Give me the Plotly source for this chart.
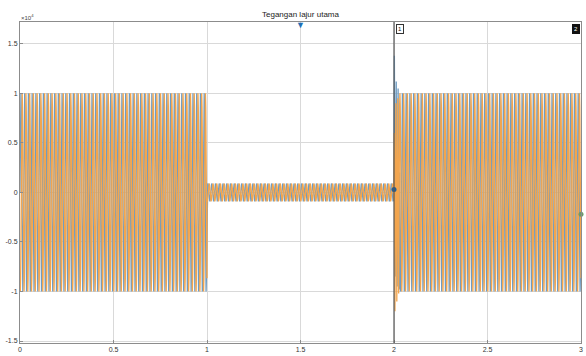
import numpy as np
import plotly.graph_objects as go

# ---- data ----
title_text = "Tegangan lajur utama"
freq_hz = 50
seg_start = [0.0, 1.0, 2.03]
seg_end = [1.0, 2.0, 3.0]
amp_blue = [1.0e4, 0.09e4, 1.0e4]
amp_orange = [1.0e4, 0.09e4, 1.0e4]
phase_blue_deg = 0
phase_orange_deg = -120

# transient right after the switching instant t = 2
trans_blue_t = [2.000, 2.002, 2.007, 2.012, 2.017, 2.022, 2.027, 2.030]
trans_blue_v = [0.03e4, 1.38e4, -0.85e4, 1.12e4, -0.95e4, 1.05e4, -0.98e4, 0.2e4]
trans_orange_t = [2.000, 2.001, 2.005, 2.010, 2.015, 2.020, 2.025, 2.030]
trans_orange_v = [0.0, 0.6e4, -1.2e4, 0.9e4, -1.1e4, 0.95e4, -1.02e4, 0.9e4]

x_ticks = [0, 0.5, 1, 1.5, 2, 2.5, 3]
x_tick_text = ["0", "0.5", "1", "1.5", "2", "2.5", "3"]
y_ticks = [-1.5e4, -1e4, -0.5e4, 0, 0.5e4, 1e4, 1.5e4]
y_tick_text = ["-1.5", "-1", "-0.5", "0", "0.5", "1", "1.5"]

cursor_x = [2.0]
marker_top_x = 1.5
dot_blue = (2.0, 0.03e4)
dot_green = (3.0, -0.22e4)

BLUE = "#6f9cc2"
ORANGE = "#f2a54e"

def wave(amps, phase_deg, extra_t, extra_v, pts_per_cycle=24):
    ts, vs = [], []
    for k, (a, b) in enumerate(zip(seg_start, seg_end)):
        n = int((b - a) * freq_hz * pts_per_cycle) + 1
        t = np.linspace(a, b, n)
        v = amps[k] * np.sin(2 * np.pi * freq_hz * t + np.deg2rad(phase_deg))
        ts.append(t)
        vs.append(v)
        if k == 1:
            ts.append(np.array(extra_t))
            vs.append(np.array(extra_v))
    return np.concatenate(ts), np.concatenate(vs)

tb, vb = wave(amp_blue, phase_blue_deg, trans_blue_t, trans_blue_v)
to, vo = wave(amp_orange, phase_orange_deg, trans_orange_t, trans_orange_v)

fig = go.Figure()
fig.add_trace(go.Scatter(x=tb, y=vb, mode="lines", line=dict(color=BLUE, width=1.3),
                         showlegend=False, hoverinfo="skip"))
fig.add_trace(go.Scatter(x=to, y=vo, mode="lines", line=dict(color=ORANGE, width=1.3),
                         showlegend=False, hoverinfo="skip"))
fig.add_trace(go.Scatter(x=[dot_blue[0]], y=[dot_blue[1]], mode="markers",
                         marker=dict(color="#1f5f99", size=5), showlegend=False))
fig.add_trace(go.Scatter(x=[dot_green[0]], y=[dot_green[1]], mode="markers",
                         marker=dict(color="#6a9a6a", size=5), showlegend=False, cliponaxis=False))

# cursor line
for cx in cursor_x:
    fig.add_shape(type="line", x0=cx, x1=cx, y0=0, y1=1, yref="paper",
                  line=dict(color="#555555", width=1.2))

axis_common = dict(showgrid=True, gridcolor="#d9d9d9", gridwidth=1, zeroline=False,
                   showline=True, linecolor="#8c8c8c", linewidth=1, mirror=True,
                   ticks="inside", ticklen=3, tickcolor="#8c8c8c",
                   tickfont=dict(family="Liberation Sans", size=7, color="#333333"))

fig.update_layout(
    width=586, height=356,
    margin=dict(l=20, r=3, t=22, b=13),
    paper_bgcolor="white", plot_bgcolor="white",
    xaxis=dict(range=[0, 3], tickvals=x_ticks, ticktext=x_tick_text, **axis_common),
    yaxis=dict(range=[-1.52e4, 1.72e4], tickvals=y_ticks, ticktext=y_tick_text, **axis_common),
    annotations=[
        dict(text=title_text, x=(marker_top_x) / 3, xref="paper", y=1, yref="paper",
             yanchor="bottom", yshift=1, showarrow=False,
             font=dict(family="Liberation Sans", size=8, color="#222222")),
        dict(text="×10<sup>4</sup>", x=0, xref="paper", y=1, yref="paper",
             xanchor="left", yanchor="bottom", xshift=-1, yshift=-1, showarrow=False,
             font=dict(family="Liberation Sans", size=6, color="#444444")),
        dict(text="1", x=2.0, xref="x", y=1, yref="paper", xanchor="left", yanchor="top",
             xshift=2, yshift=-2, showarrow=False, bgcolor="white", bordercolor="#333333",
             borderwidth=1, borderpad=1, font=dict(family="Liberation Sans", size=6, color="#111111")),
        dict(text="2", x=3.0, xref="x", y=1, yref="paper", xanchor="right", yanchor="top",
             xshift=-1, yshift=-2, showarrow=False, bgcolor="#111111", bordercolor="#111111",
             borderwidth=1, borderpad=1, font=dict(family="Liberation Sans", size=6, color="white")),
        dict(text="▼", x=marker_top_x, xref="x", y=1, yref="paper", yanchor="top",
             yshift=6, showarrow=False, font=dict(size=9, color="#1f6fb5")),
    ],
)

fig.write_html("out.html")
